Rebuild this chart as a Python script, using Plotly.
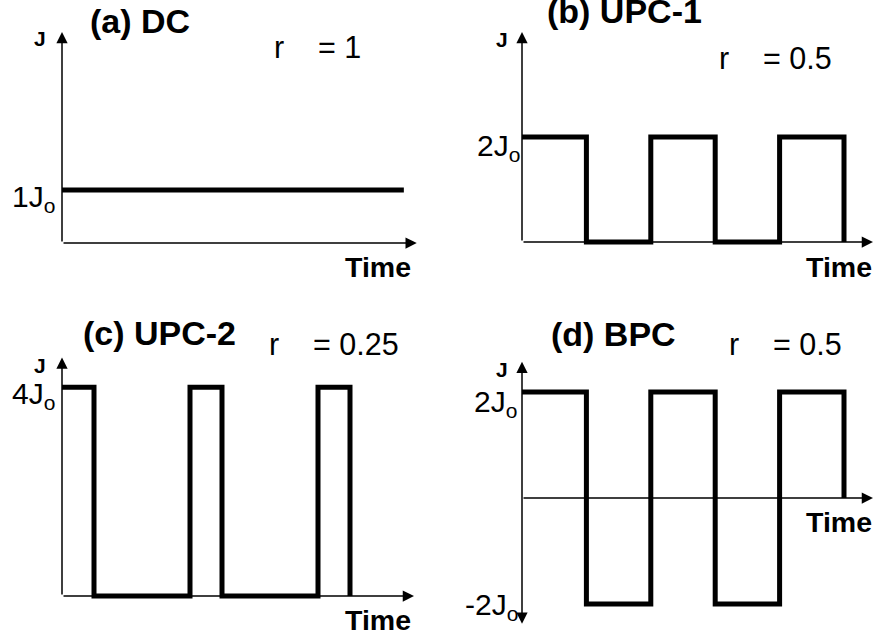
import plotly.graph_objects as go

W, H = 877, 641
FONT = "Liberation Sans, Arial, sans-serif"

# ---------------- data ----------------
dc_time = [0, 5.3]
dc_current = [1, 1]

upc1_time = [0, 1, 1, 2, 2, 3, 3, 4, 4, 5, 5]
upc1_current = [2, 2, 0, 0, 2, 2, 0, 0, 2, 2, 0]

upc2_time = [0, 0.5, 0.5, 2, 2, 2.5, 2.5, 4, 4, 4.5, 4.5]
upc2_current = [4, 4, 0, 0, 4, 4, 0, 0, 4, 4, 0]

bpc_time = [0, 1, 1, 2, 2, 3, 3, 4, 4, 5, 5]
bpc_current = [2, 2, -2, -2, 2, 2, -2, -2, 2, 2, 0]

titles = ["(a) DC", "(b) UPC-1", "(c) UPC-2", "(d) BPC"]
ratios = ["r\u00a0\u00a0\u00a0\u00a0= 1", "r\u00a0\u00a0\u00a0\u00a0= 0.5",
          "r\u00a0\u00a0\u00a0\u00a0= 0.25", "r\u00a0\u00a0\u00a0\u00a0= 0.5"]
tick_a = ["1J<sub>o</sub>"]
tick_b = ["2J<sub>o</sub>"]
tick_c = ["4J<sub>o</sub>"]
tick_d = ["2J<sub>o</sub>", "-2J<sub>o</sub>"]

# ---------------- layout helpers ----------------
# panel origin (pixel) and scale (pixels per unit)
panels = [
    dict(X0=62, Y0=243, sx=64.5, sy=53.0),
    dict(X0=522, Y0=242, sx=64.4, sy=52.5),
    dict(X0=62, Y0=596, sx=64.0, sy=52.2),
    dict(X0=522, Y0=498, sx=64.4, sy=53.0),
]

fig = go.Figure()
series = [(dc_time, dc_current), (upc1_time, upc1_current),
          (upc2_time, upc2_current), (bpc_time, bpc_current)]

layout = dict(width=W, height=H, margin=dict(l=0, r=0, t=0, b=0),
              paper_bgcolor="white", plot_bgcolor="rgba(0,0,0,0)",
              showlegend=False, font=dict(family=FONT, color="black"))

for i, (p, (tx, ty)) in enumerate(zip(panels, series)):
    n = "" if i == 0 else str(i + 1)
    xr = [(0 - p["X0"]) / p["sx"], (W - p["X0"]) / p["sx"]]
    yr = [(p["Y0"] - H) / p["sy"], (p["Y0"] - 0) / p["sy"]]
    layout["xaxis" + n] = dict(domain=[0, 1], range=xr, visible=False,
                               anchor="y" + n, fixedrange=True)
    layout["yaxis" + n] = dict(domain=[0, 1], range=yr, visible=False,
                               anchor="x" + n, fixedrange=True)
    fig.add_trace(go.Scatter(x=tx, y=ty, mode="lines",
                             line=dict(color="black", width=5),
                             xaxis="x" + n, yaxis="y" + n,
                             hoverinfo="skip", cliponaxis=False))

fig.update_layout(**layout)

def axis_arrow(n, x0, y0, x1, y1, both=False):
    fig.add_annotation(x=x1, y=y1, ax=x0, ay=y0, xref="x" + n, yref="y" + n,
                       axref="x" + n, ayref="y" + n, text="", showarrow=True,
                       arrowhead=2, arrowsize=1.5, arrowwidth=1.5,
                       arrowcolor="black",
                       arrowside="end+start" if both else "end",
                       startarrowhead=2, startarrowsize=1.5)

# axes with arrowheads
axis_arrow("", 0, 0, 5.5, 0)
axis_arrow("", 0, 0, 0, 3.98)
axis_arrow("2", 0, 0, 5.45, 0)
axis_arrow("2", 0, 0, 0, 4.0)
axis_arrow("3", 0, 0, 5.5, 0)
axis_arrow("3", 0, 0, 0, 4.57)
axis_arrow("4", 0, 0, 5.45, 0)
axis_arrow("4", 0, -2.4, 0, 2.57, both=True)

def txt(s, px, py, size, bold=False, xanchor="left"):
    fig.add_annotation(x=px / W, y=1 - py / H, xref="paper", yref="paper",
                       text=("<b>%s</b>" % s) if bold else s, showarrow=False,
                       xanchor=xanchor, yanchor="middle",
                       font=dict(size=size, family=FONT, color="black"))

TS, RS, JS, LS, TM = 34, 30.5, 21, 30, 28.5

# titles
txt(titles[0], 88, 21, TS, bold=True)
txt(titles[1], 545, 11, TS, bold=True)
txt(titles[2], 81, 333, TS, bold=True)
txt(titles[3], 549, 334, TS, bold=True)

# ratios
txt(ratios[0], 272, 47, RS)
txt(ratios[1], 717, 58, RS)
txt(ratios[2], 267, 344, RS)
txt(ratios[3], 727, 344, RS)

# J labels
txt("J", 40, 39, JS, bold=True, xanchor="center")
txt("J", 502, 40, JS, bold=True, xanchor="center")
txt("J", 40, 365, JS, bold=True, xanchor="center")
txt("J", 502, 369, JS, bold=True, xanchor="center")

# level labels
txt(tick_a[0], 57, 198, LS, xanchor="right")
txt(tick_b[0], 522, 147, LS, xanchor="right")
txt(tick_c[0], 57, 395, LS, xanchor="right")
txt(tick_d[0], 519, 403, LS, xanchor="right")
txt(tick_d[1], 520, 606, LS, xanchor="right")

# Time labels
txt("Time", 413, 267, TM, bold=True, xanchor="right")
txt("Time", 874, 267, TM, bold=True, xanchor="right")
txt("Time", 413, 620, TM, bold=True, xanchor="right")
txt("Time", 874, 522, TM, bold=True, xanchor="right")

fig.write_html("out.html", config={"displayModeBar": False},
               post_script="document.body.style.margin='0';"
                           "document.body.style.overflow='hidden';")
